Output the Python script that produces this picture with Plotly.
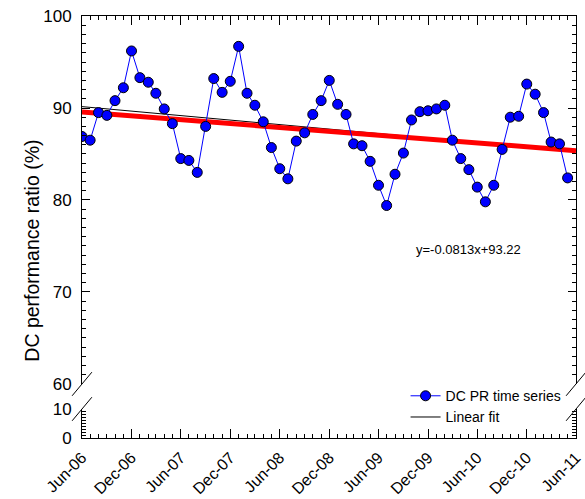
import pandas as pd
import plotly.graph_objects as go

# Monthly DC performance ratio, Jun-2006 .. May-2011
months = pd.date_range("2006-06-01", periods=60, freq="MS")
dc_pr = [
    86.9, 86.5, 89.5, 89.2, 90.8, 92.2, 96.2, 93.3, 92.8, 91.6,
    89.9, 88.3, 84.5, 84.3, 83.0, 88.0, 93.2, 91.7, 92.9, 96.7,
    91.6, 90.3, 88.5, 85.7, 83.4, 82.3, 86.4, 87.3, 89.3, 90.8,
    93.0, 90.4, 89.3, 86.1, 85.9, 84.2, 81.6, 79.4, 82.8, 85.1,
    88.7, 89.6, 89.7, 89.9, 90.3, 86.5, 84.5, 83.3, 81.4, 79.8,
    81.6, 85.5, 89.0, 89.1, 92.6, 91.5, 89.5, 86.3, 86.1, 82.4,
]

# Linear fit (y = -0.0813x + 93.22) evaluated over the series span
fit_x = ["2006-06-01", "2011-05-01"]
fit_y = [90.15, 85.35]

# Long-term trend line
trend_x = ["2006-06-01", "2011-06-01"]
trend_y = [89.57, 85.36]

fit_label = "y=-0.0813x+93.22"

FONT = "Liberation Sans, Arial, sans-serif"
X_RANGE = ["2006-06-01", "2011-06-01"]

fig = go.Figure()

# Empty placeholder so that the lower (0-10) panel and bottom axis are drawn
fig.add_trace(go.Scatter(x=[months[0]], y=[None], mode="lines",
                         showlegend=False, hoverinfo="skip",
                         xaxis="x", yaxis="y"))

fig.add_trace(go.Scatter(
    x=fit_x, y=fit_y, mode="lines", name="Linear fit",
    line=dict(color="black", width=1), xaxis="x2", yaxis="y2", legendrank=2,
))
fig.add_trace(go.Scatter(
    x=trend_x, y=trend_y, mode="lines", showlegend=False,
    line=dict(color="#ff0000", width=5), xaxis="x2", yaxis="y2",
))
fig.add_trace(go.Scatter(
    x=months, y=dc_pr, mode="lines+markers", name="DC PR time series",
    line=dict(color="#0000ff", width=1),
    marker=dict(color="#0000ff", size=10, line=dict(color="black", width=1)),
    xaxis="x2", yaxis="y2", legendrank=1,
))

low_top = 0.0687
up_bot = 0.128

axis_common = dict(
    showline=True, linecolor="black", linewidth=1, showgrid=False,
    zeroline=False, ticks="inside", tickcolor="black", mirror="ticks",
    tickfont=dict(family=FONT, size=17, color="black"),
    ticklabelstandoff=6, automargin=False,
)
x_minor = dict(ticks="inside", ticklen=4, dtick="M1", tick0="2006-06-01",
               tickcolor="black", showgrid=False)

fig.update_layout(
    width=585, height=499,
    margin=dict(l=82, r=9, t=16, b=61),
    paper_bgcolor="white", plot_bgcolor="white",
    font=dict(family=FONT, color="black"),
    xaxis=dict(
        type="date", range=X_RANGE, anchor="y", side="bottom",
        tick0="2006-06-01", dtick="M6", tickformat="%b-%y",
        tickangle=-45, ticklen=9, minor=x_minor,
        showline=True, linecolor="black", linewidth=1, showgrid=False,
        zeroline=False, ticks="inside", tickcolor="black",
        tickfont=dict(family=FONT, size=16, color="black"),
        ticklabelstandoff=3, automargin=False,
    ),
    xaxis2=dict(
        type="date", range=X_RANGE, anchor="y2", side="top",
        overlaying="x", matches="x",
        tick0="2006-06-01", dtick="M6", ticklen=9, minor=x_minor,
        showline=True, linecolor="black", linewidth=1, showgrid=False,
        zeroline=False, ticks="inside", tickcolor="black",
        showticklabels=False, automargin=False,
    ),
    yaxis=dict(
        domain=[0, low_top], range=[0, 10], tickvals=[0, 10], ticklen=8,
        anchor="x",
        minor=dict(ticks="inside", ticklen=4, dtick=1, tickcolor="black",
                   showgrid=False),
        **axis_common,
    ),
    yaxis2=dict(
        domain=[up_bot, 1], range=[60, 100], dtick=10, ticklen=8,
        anchor="x2",
        minor=dict(ticks="inside", ticklen=4, dtick=1, tickcolor="black",
                   showgrid=False),
        **axis_common,
    ),
    legend=dict(
        x=0.655, y=0.137, xanchor="left", yanchor="top",
        bgcolor="rgba(0,0,0,0)", borderwidth=0,
        font=dict(family=FONT, size=14, color="black"),
        tracegroupgap=0, itemwidth=30,
    ),
    annotations=[
        dict(text=fit_label, xref="paper", yref="paper", x=0.783, y=0.4455,
             xanchor="center", yanchor="middle", showarrow=False,
             font=dict(family=FONT, size=13, color="black")),
        dict(text="DC performance ratio (%)", xref="paper", yref="paper",
             x=-0.102, y=0.443, xanchor="center", yanchor="middle",
             textangle=-90, showarrow=False,
             font=dict(family=FONT, size=19.5, color="black")),
    ],
)

# Axis-break slashes on the left and right spines
shapes = []
for xp in (0, 1):
    for yp in (up_bot, low_top):
        shapes.append(dict(
            type="line", xref="paper", yref="paper",
            x0=xp - 0.02, x1=xp + 0.02,
            y0=yp - 0.028, y1=yp + 0.028,
            line=dict(color="black", width=1),
        ))
fig.update_layout(shapes=shapes)

fig.write_html("out.html")
